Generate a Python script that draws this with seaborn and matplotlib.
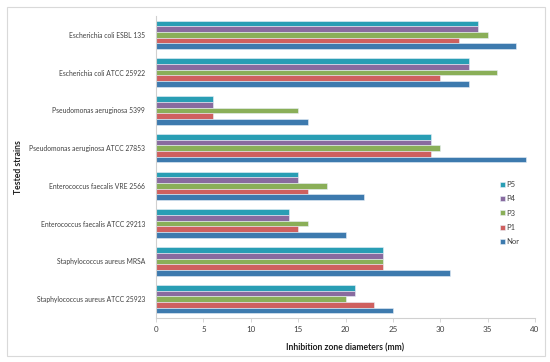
import matplotlib
matplotlib.use("Agg")
import matplotlib.pyplot as plt
import seaborn as sns
import pandas as pd
from matplotlib.patches import Rectangle

strains = ["Escherichia coli ESBL 135", "Escherichia coli ATCC 25922",
           "Pseudomonas aeruginosa 5399", "Pseudomonas aeruginosa ATCC 27853",
           "Enterococcus faecalis VRE 2566", "Enterococcus faecalis ATCC 29213",
           "Staphylococcus aureus MRSA", "Staphylococcus aureus ATCC 25923"]
series = ["P5", "P4", "P3", "P1", "Nor"]
P5 = [34, 33, 6, 29, 15, 14, 24, 21]
P4 = [34, 33, 6, 29, 15, 14, 24, 21]
P3 = [35, 36, 15, 30, 18, 16, 24, 20]
P1 = [32, 30, 6, 29, 16, 15, 24, 23]
Nor = [38, 33, 16, 39, 22, 20, 31, 25]
colors = ["#12aecb", "#8a62a8", "#8cbd4a", "#e24e4c", "#2a7cc1"]

vals = {"P5": P5, "P4": P4, "P3": P3, "P1": P1, "Nor": Nor}
rows = []
for s in series:
    for st, v in zip(strains, vals[s]):
        rows.append({"strain": st, "series": s, "value": v})
df = pd.DataFrame(rows)

sns.set_style("white")
plt.rcParams['font.family'] = ['Lato', 'DejaVu Sans']

fig = plt.figure(figsize=(5.5, 3.62), dpi=100)
ax = fig.add_axes([156/550, 1 - 318/362, (535-156)/550, (318-16)/362])
sns.barplot(data=df, y="strain", x="value", hue="series", order=strains,
            hue_order=series, palette=colors, orient="h", width=0.76,
            edgecolor="#e8f0f8", linewidth=0.4, ax=ax)

ax.set_xlim(0, 40)
ax.set_xticks(range(0, 41, 5))
ax.set_ylim(len(strains) - 0.5, -0.5)
ax.tick_params(axis="x", labelsize=5.8, length=3, width=0.6,
               direction="out", bottom=True, pad=3)
ax.tick_params(axis="y", labelsize=4.85, length=0, pad=8)
for lab in ax.get_xticklabels() + ax.get_yticklabels():
    lab.set_color("#404040")
for side in ["top", "right"]:
    ax.spines[side].set_visible(False)
for side in ["left", "bottom"]:
    ax.spines[side].set_color("#d0d0d0")
    ax.spines[side].set_linewidth(0.8)
ax.xaxis.set_tick_params(color="#d0d0d0")
ax.set_xlabel("Inhibition zone diameters (mm)", fontsize=6.2, fontweight="bold",
              color="#202020", labelpad=7)
ax.set_ylabel("Tested strains", fontsize=6.2, fontweight="bold", color="#202020")
ax.yaxis.set_label_coords(-0.35, 0.5)

leg = ax.legend(loc="upper left", bbox_to_anchor=((497-156)/(535-156), 1 - (178-16)/(318-16)),
                frameon=False, fontsize=5.5, handlelength=0.6, handleheight=0.6,
                handletextpad=0.2, labelspacing=0.95, borderaxespad=0)
for t in leg.get_texts():
    t.set_color("#404040")

fig.patches.append(Rectangle((7/550, 1 - 356/362), (545-7)/550, (356-7)/362,
                             transform=fig.transFigure, fill=False,
                             edgecolor="#d9d9d9", linewidth=0.8))
fig.savefig("out.png", dpi=100)
